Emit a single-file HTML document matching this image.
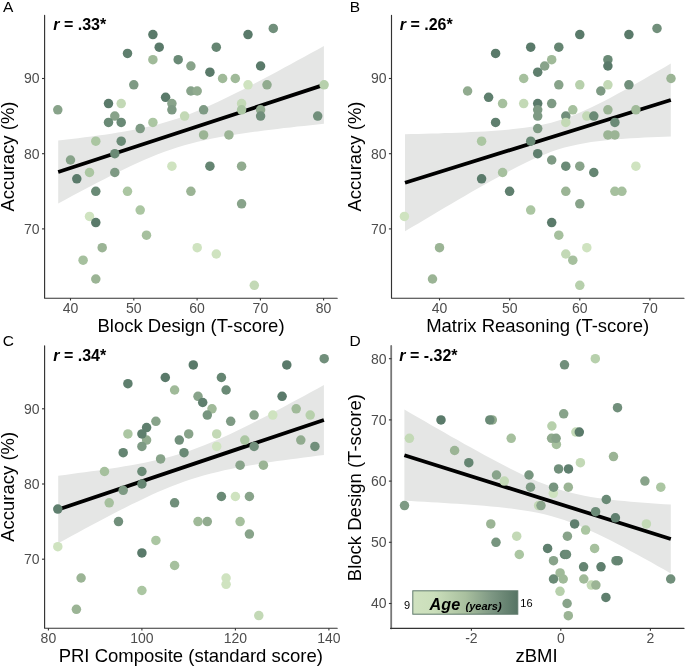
<!DOCTYPE html><html><head><meta charset="utf-8"><style>html,body{margin:0;padding:0;background:#fff;}svg{display:block;will-change:transform;}text{font-family:"Liberation Sans",sans-serif;}</style></head><body>
<svg width="685" height="667" viewBox="0 0 685 667">
<defs><linearGradient id="lg" x1="0" x2="1" y1="0" y2="0"><stop offset="0" stop-color="#d0e2c0"/><stop offset="0.2" stop-color="#cbdfbb"/><stop offset="0.5" stop-color="#a9c09f"/><stop offset="0.75" stop-color="#7d9783"/><stop offset="1" stop-color="#567464"/></linearGradient></defs>
<path d="M58.2,140.5 L64.8,139.7 L71.5,139.0 L78.1,138.2 L84.8,137.3 L91.4,136.5 L98.1,135.6 L104.7,134.7 L111.3,133.7 L118.0,132.6 L124.6,131.5 L131.3,130.3 L137.9,129.0 L144.6,127.6 L151.2,126.1 L157.8,124.4 L164.5,122.6 L171.1,120.6 L177.8,118.4 L184.4,116.1 L191.1,113.5 L197.7,110.8 L204.3,108.0 L211.0,105.0 L217.6,102.0 L224.3,98.8 L230.9,95.5 L237.5,92.2 L244.2,88.9 L250.8,85.4 L257.5,82.0 L264.1,78.5 L270.8,74.9 L277.4,71.4 L284.0,67.8 L290.7,64.2 L297.3,60.6 L304.0,57.0 L310.6,53.3 L317.3,49.7 L323.9,46.0 L323.9,123.8 L317.3,124.5 L310.6,125.2 L304.0,125.9 L297.3,126.6 L290.7,127.4 L284.0,128.1 L277.4,128.9 L270.8,129.7 L264.1,130.5 L257.5,131.4 L250.8,132.3 L244.2,133.2 L237.5,134.2 L230.9,135.2 L224.3,136.3 L217.6,137.5 L211.0,138.8 L204.3,140.2 L197.7,141.7 L191.1,143.4 L184.4,145.2 L177.8,147.2 L171.1,149.4 L164.5,151.7 L157.8,154.2 L151.2,156.9 L144.6,159.8 L137.9,162.7 L131.3,165.8 L124.6,168.9 L118.0,172.2 L111.3,175.5 L104.7,178.9 L98.1,182.3 L91.4,185.7 L84.8,189.2 L78.1,192.8 L71.5,196.3 L64.8,199.9 L58.2,203.5Z" fill="#e5e6e5"/>
<line x1="58.2" y1="172.0" x2="323.9" y2="84.9" stroke="#000" stroke-width="3.8"/>
<circle cx="127.5" cy="53.4" r="4.75" fill="#5f7f6e"/>
<circle cx="133.8" cy="84.8" r="4.75" fill="#7e9a84"/>
<circle cx="108.5" cy="103.6" r="4.75" fill="#5a7a6a"/>
<circle cx="121.2" cy="103.6" r="4.75" fill="#c3d9b6"/>
<circle cx="57.8" cy="109.8" r="4.75" fill="#88a38a"/>
<circle cx="152.9" cy="34.6" r="4.75" fill="#5a7a6a"/>
<circle cx="159.2" cy="47.2" r="4.75" fill="#5a7a6a"/>
<circle cx="152.9" cy="59.7" r="4.75" fill="#a0ba99"/>
<circle cx="178.2" cy="59.7" r="4.75" fill="#6a8a76"/>
<circle cx="190.9" cy="66.0" r="4.75" fill="#88a38a"/>
<circle cx="216.3" cy="47.2" r="4.75" fill="#658572"/>
<circle cx="209.9" cy="72.2" r="4.75" fill="#5a7a6a"/>
<circle cx="222.6" cy="78.5" r="4.75" fill="#a0ba99"/>
<circle cx="235.3" cy="78.5" r="4.75" fill="#a0ba99"/>
<circle cx="190.9" cy="91.0" r="4.75" fill="#88a38a"/>
<circle cx="197.2" cy="91.0" r="4.75" fill="#91ab8f"/>
<circle cx="165.6" cy="97.3" r="4.75" fill="#5a7a6a"/>
<circle cx="171.9" cy="103.6" r="4.75" fill="#88a38a"/>
<circle cx="248.0" cy="34.6" r="4.75" fill="#5a7a6a"/>
<circle cx="273.3" cy="28.4" r="4.75" fill="#718f7b"/>
<circle cx="260.6" cy="66.0" r="4.75" fill="#5a7a6a"/>
<circle cx="248.0" cy="84.8" r="4.75" fill="#cfe3c0"/>
<circle cx="267.0" cy="84.8" r="4.75" fill="#91ab8f"/>
<circle cx="324.1" cy="84.8" r="4.75" fill="#b7d0ac"/>
<circle cx="241.6" cy="103.6" r="4.75" fill="#c3d9b6"/>
<circle cx="241.6" cy="109.8" r="4.75" fill="#abc6a2"/>
<circle cx="260.6" cy="109.8" r="4.75" fill="#91ab8f"/>
<circle cx="260.6" cy="116.1" r="4.75" fill="#718f7b"/>
<circle cx="317.7" cy="116.1" r="4.75" fill="#718f7b"/>
<circle cx="114.8" cy="116.1" r="4.75" fill="#88a38a"/>
<circle cx="108.5" cy="122.4" r="4.75" fill="#6a8a76"/>
<circle cx="121.2" cy="122.4" r="4.75" fill="#6a8a76"/>
<circle cx="140.2" cy="128.6" r="4.75" fill="#7e9a84"/>
<circle cx="95.8" cy="141.2" r="4.75" fill="#abc6a2"/>
<circle cx="121.2" cy="141.2" r="4.75" fill="#6a8a76"/>
<circle cx="114.8" cy="153.7" r="4.75" fill="#6a8a76"/>
<circle cx="70.5" cy="160.0" r="4.75" fill="#88a38a"/>
<circle cx="89.5" cy="172.5" r="4.75" fill="#abc6a2"/>
<circle cx="114.8" cy="172.5" r="4.75" fill="#7e9a84"/>
<circle cx="76.8" cy="178.8" r="4.75" fill="#5a7a6a"/>
<circle cx="95.8" cy="191.3" r="4.75" fill="#6a8a76"/>
<circle cx="127.5" cy="191.3" r="4.75" fill="#abc6a2"/>
<circle cx="171.9" cy="109.8" r="4.75" fill="#7e9a84"/>
<circle cx="203.6" cy="109.8" r="4.75" fill="#7e9a84"/>
<circle cx="152.9" cy="122.4" r="4.75" fill="#abc6a2"/>
<circle cx="184.6" cy="116.1" r="4.75" fill="#c3d9b6"/>
<circle cx="203.6" cy="134.9" r="4.75" fill="#9bb495"/>
<circle cx="228.9" cy="134.9" r="4.75" fill="#9bb495"/>
<circle cx="171.9" cy="166.2" r="4.75" fill="#cfe3c0"/>
<circle cx="209.9" cy="166.2" r="4.75" fill="#658572"/>
<circle cx="241.6" cy="166.2" r="4.75" fill="#91ab8f"/>
<circle cx="190.9" cy="191.3" r="4.75" fill="#9bb495"/>
<circle cx="89.5" cy="216.4" r="4.75" fill="#cfe3c0"/>
<circle cx="95.8" cy="222.6" r="4.75" fill="#5a7a6a"/>
<circle cx="140.2" cy="210.1" r="4.75" fill="#abc6a2"/>
<circle cx="146.5" cy="235.2" r="4.75" fill="#a6c09e"/>
<circle cx="102.2" cy="247.7" r="4.75" fill="#9bb495"/>
<circle cx="83.1" cy="260.2" r="4.75" fill="#a6c09e"/>
<circle cx="95.8" cy="279.0" r="4.75" fill="#9bb495"/>
<circle cx="197.2" cy="247.7" r="4.75" fill="#cfe3c0"/>
<circle cx="216.3" cy="254.0" r="4.75" fill="#cfe3c0"/>
<circle cx="241.6" cy="203.8" r="4.75" fill="#88a38a"/>
<circle cx="254.3" cy="285.3" r="4.75" fill="#c3d9b6"/>
<path d="M44.6,15.3 V298.2 H337.2" fill="none" stroke="#333333" stroke-width="1.15" stroke-linecap="round" stroke-linejoin="round"/>
<line x1="42.0" y1="78.5" x2="44.6" y2="78.5" stroke="#333333" stroke-width="1.1"/>
<text x="39.6" y="83.4" text-anchor="end" font-size="14" fill="#4d4d4d">90</text>
<line x1="42.0" y1="153.7" x2="44.6" y2="153.7" stroke="#333333" stroke-width="1.1"/>
<text x="39.6" y="158.6" text-anchor="end" font-size="14" fill="#4d4d4d">80</text>
<line x1="42.0" y1="228.9" x2="44.6" y2="228.9" stroke="#333333" stroke-width="1.1"/>
<text x="39.6" y="233.8" text-anchor="end" font-size="14" fill="#4d4d4d">70</text>
<line x1="70.5" y1="298.2" x2="70.5" y2="300.5" stroke="#333333" stroke-width="1.1"/>
<text x="70.5" y="313.2" text-anchor="middle" font-size="14" fill="#4d4d4d">40</text>
<line x1="133.8" y1="298.2" x2="133.8" y2="300.5" stroke="#333333" stroke-width="1.1"/>
<text x="133.8" y="313.2" text-anchor="middle" font-size="14" fill="#4d4d4d">50</text>
<line x1="197.1" y1="298.2" x2="197.1" y2="300.5" stroke="#333333" stroke-width="1.1"/>
<text x="197.1" y="313.2" text-anchor="middle" font-size="14" fill="#4d4d4d">60</text>
<line x1="260.4" y1="298.2" x2="260.4" y2="300.5" stroke="#333333" stroke-width="1.1"/>
<text x="260.4" y="313.2" text-anchor="middle" font-size="14" fill="#4d4d4d">70</text>
<line x1="323.6" y1="298.2" x2="323.6" y2="300.5" stroke="#333333" stroke-width="1.1"/>
<text x="323.6" y="313.2" text-anchor="middle" font-size="14" fill="#4d4d4d">80</text>
<text x="191" y="331.6" text-anchor="middle" font-size="18.5">Block Design (T-score)</text>
<text transform="translate(13.6,156.5) rotate(-90)" text-anchor="middle" font-size="18.5">Accuracy (%)</text>
<text x="3.0" y="12" font-size="15.5">A</text>
<text x="53.3" y="30.2" font-size="16" font-weight="bold"><tspan font-style="italic">r</tspan> = .33*</text>
<path d="M405.0,134.3 L411.6,134.1 L418.3,134.0 L424.9,133.8 L431.6,133.6 L438.2,133.4 L444.9,133.1 L451.5,132.9 L458.2,132.7 L464.8,132.4 L471.4,132.1 L478.1,131.7 L484.7,131.4 L491.4,131.0 L498.0,130.5 L504.7,130.0 L511.3,129.3 L518.0,128.6 L524.6,127.8 L531.3,126.8 L537.9,125.7 L544.5,124.3 L551.2,122.7 L557.8,120.8 L564.5,118.6 L571.1,116.2 L577.8,113.5 L584.4,110.6 L591.1,107.5 L597.7,104.3 L604.3,100.9 L611.0,97.4 L617.6,93.8 L624.3,90.2 L630.9,86.5 L637.6,82.7 L644.2,78.9 L650.9,75.1 L657.5,71.3 L664.2,67.4 L670.8,63.5 L670.8,136.5 L664.2,136.7 L657.5,137.0 L650.9,137.3 L644.2,137.6 L637.6,138.0 L630.9,138.3 L624.3,138.8 L617.6,139.3 L611.0,139.8 L604.3,140.5 L597.7,141.2 L591.1,142.1 L584.4,143.2 L577.8,144.4 L571.1,145.9 L564.5,147.6 L557.8,149.6 L551.2,151.8 L544.5,154.4 L537.9,157.1 L531.3,160.1 L524.6,163.3 L518.0,166.6 L511.3,170.0 L504.7,173.5 L498.0,177.2 L491.4,180.8 L484.7,184.5 L478.1,188.3 L471.4,192.1 L464.8,196.0 L458.2,199.8 L451.5,203.7 L444.9,207.6 L438.2,211.5 L431.6,215.5 L424.9,219.4 L418.3,223.4 L411.6,227.3 L405.0,231.3Z" fill="#e5e6e5"/>
<line x1="405.0" y1="182.8" x2="670.8" y2="100.0" stroke="#000" stroke-width="3.8"/>
<circle cx="467.6" cy="91.0" r="4.75" fill="#91ab8f"/>
<circle cx="488.6" cy="97.3" r="4.75" fill="#5f7f6e"/>
<circle cx="495.6" cy="53.4" r="4.75" fill="#5a7a6a"/>
<circle cx="530.7" cy="47.2" r="4.75" fill="#5a7a6a"/>
<circle cx="558.8" cy="47.2" r="4.75" fill="#658572"/>
<circle cx="579.8" cy="34.6" r="4.75" fill="#5a7a6a"/>
<circle cx="551.7" cy="59.7" r="4.75" fill="#a0ba99"/>
<circle cx="544.7" cy="66.0" r="4.75" fill="#88a38a"/>
<circle cx="537.7" cy="72.2" r="4.75" fill="#5f7f6e"/>
<circle cx="523.7" cy="78.5" r="4.75" fill="#a6c09e"/>
<circle cx="558.8" cy="84.8" r="4.75" fill="#88a38a"/>
<circle cx="579.8" cy="84.8" r="4.75" fill="#b7d0ac"/>
<circle cx="502.6" cy="103.6" r="4.75" fill="#a6c09e"/>
<circle cx="523.7" cy="103.6" r="4.75" fill="#c3d9b6"/>
<circle cx="537.7" cy="103.6" r="4.75" fill="#5a7a6a"/>
<circle cx="551.7" cy="103.6" r="4.75" fill="#7e9a84"/>
<circle cx="628.9" cy="34.6" r="4.75" fill="#5a7a6a"/>
<circle cx="657.0" cy="28.4" r="4.75" fill="#718f7b"/>
<circle cx="607.9" cy="59.7" r="4.75" fill="#6a8a76"/>
<circle cx="607.9" cy="66.0" r="4.75" fill="#5a7a6a"/>
<circle cx="607.9" cy="84.8" r="4.75" fill="#c3d9b6"/>
<circle cx="628.9" cy="84.8" r="4.75" fill="#718f7b"/>
<circle cx="671.0" cy="78.5" r="4.75" fill="#9bb495"/>
<circle cx="600.8" cy="91.0" r="4.75" fill="#7e9a84"/>
<circle cx="607.9" cy="109.8" r="4.75" fill="#9bb495"/>
<circle cx="635.9" cy="109.8" r="4.75" fill="#a0ba99"/>
<circle cx="481.6" cy="141.2" r="4.75" fill="#abc6a2"/>
<circle cx="481.6" cy="178.8" r="4.75" fill="#5a7a6a"/>
<circle cx="537.7" cy="109.8" r="4.75" fill="#7e9a84"/>
<circle cx="537.7" cy="116.1" r="4.75" fill="#7e9a84"/>
<circle cx="572.8" cy="109.8" r="4.75" fill="#a6c09e"/>
<circle cx="565.8" cy="116.1" r="4.75" fill="#718f7b"/>
<circle cx="565.8" cy="122.4" r="4.75" fill="#c3d9b6"/>
<circle cx="586.8" cy="116.1" r="4.75" fill="#c3d9b6"/>
<circle cx="593.8" cy="116.1" r="4.75" fill="#6a8a76"/>
<circle cx="495.6" cy="122.4" r="4.75" fill="#5f7f6e"/>
<circle cx="537.7" cy="128.6" r="4.75" fill="#7e9a84"/>
<circle cx="530.7" cy="141.2" r="4.75" fill="#6a8a76"/>
<circle cx="537.7" cy="153.7" r="4.75" fill="#5f7f6e"/>
<circle cx="551.7" cy="160.0" r="4.75" fill="#7e9a84"/>
<circle cx="565.8" cy="166.2" r="4.75" fill="#6a8a76"/>
<circle cx="579.8" cy="166.2" r="4.75" fill="#88a38a"/>
<circle cx="502.6" cy="172.5" r="4.75" fill="#a6c09e"/>
<circle cx="509.6" cy="191.3" r="4.75" fill="#5f7f6e"/>
<circle cx="565.8" cy="191.3" r="4.75" fill="#9bb495"/>
<circle cx="614.9" cy="122.4" r="4.75" fill="#6a8a76"/>
<circle cx="607.9" cy="134.9" r="4.75" fill="#9bb495"/>
<circle cx="614.9" cy="134.9" r="4.75" fill="#9bb495"/>
<circle cx="593.8" cy="172.5" r="4.75" fill="#658572"/>
<circle cx="635.9" cy="166.2" r="4.75" fill="#cfe3c0"/>
<circle cx="614.9" cy="191.3" r="4.75" fill="#a6c09e"/>
<circle cx="621.9" cy="191.3" r="4.75" fill="#a6c09e"/>
<circle cx="404.4" cy="216.4" r="4.75" fill="#cfe3c0"/>
<circle cx="439.5" cy="247.7" r="4.75" fill="#9bb495"/>
<circle cx="432.5" cy="279.0" r="4.75" fill="#9bb495"/>
<circle cx="530.7" cy="210.1" r="4.75" fill="#abc6a2"/>
<circle cx="551.7" cy="222.6" r="4.75" fill="#5a7a6a"/>
<circle cx="558.8" cy="235.2" r="4.75" fill="#a6c09e"/>
<circle cx="579.8" cy="203.8" r="4.75" fill="#88a38a"/>
<circle cx="565.8" cy="254.0" r="4.75" fill="#c3d9b6"/>
<circle cx="572.8" cy="260.2" r="4.75" fill="#a6c09e"/>
<circle cx="579.8" cy="285.3" r="4.75" fill="#b7d0ac"/>
<circle cx="586.8" cy="247.7" r="4.75" fill="#cfe3c0"/>
<path d="M391.5,15.3 V298.2 H684" fill="none" stroke="#333333" stroke-width="1.15" stroke-linecap="round" stroke-linejoin="round"/>
<line x1="388.9" y1="78.5" x2="391.5" y2="78.5" stroke="#333333" stroke-width="1.1"/>
<text x="386.5" y="83.4" text-anchor="end" font-size="14" fill="#4d4d4d">90</text>
<line x1="388.9" y1="153.7" x2="391.5" y2="153.7" stroke="#333333" stroke-width="1.1"/>
<text x="386.5" y="158.6" text-anchor="end" font-size="14" fill="#4d4d4d">80</text>
<line x1="388.9" y1="228.9" x2="391.5" y2="228.9" stroke="#333333" stroke-width="1.1"/>
<text x="386.5" y="233.8" text-anchor="end" font-size="14" fill="#4d4d4d">70</text>
<line x1="439.5" y1="298.2" x2="439.5" y2="300.5" stroke="#333333" stroke-width="1.1"/>
<text x="439.5" y="313.2" text-anchor="middle" font-size="14" fill="#4d4d4d">40</text>
<line x1="509.7" y1="298.2" x2="509.7" y2="300.5" stroke="#333333" stroke-width="1.1"/>
<text x="509.7" y="313.2" text-anchor="middle" font-size="14" fill="#4d4d4d">50</text>
<line x1="579.8" y1="298.2" x2="579.8" y2="300.5" stroke="#333333" stroke-width="1.1"/>
<text x="579.8" y="313.2" text-anchor="middle" font-size="14" fill="#4d4d4d">60</text>
<line x1="649.9" y1="298.2" x2="649.9" y2="300.5" stroke="#333333" stroke-width="1.1"/>
<text x="649.9" y="313.2" text-anchor="middle" font-size="14" fill="#4d4d4d">70</text>
<text x="537.7" y="331.6" text-anchor="middle" font-size="18.5">Matrix Reasoning (T-score)</text>
<text transform="translate(361.1,156.5) rotate(-90)" text-anchor="middle" font-size="18.5">Accuracy (%)</text>
<text x="349.7" y="12" font-size="15.5">B</text>
<text x="399.8" y="30.2" font-size="16" font-weight="bold"><tspan font-style="italic">r</tspan> = .26*</text>
<path d="M58.2,475.7 L64.8,474.9 L71.5,474.0 L78.1,473.1 L84.8,472.3 L91.4,471.3 L98.1,470.4 L104.7,469.4 L111.3,468.4 L118.0,467.4 L124.6,466.3 L131.3,465.2 L137.9,463.9 L144.6,462.7 L151.2,461.3 L157.8,459.8 L164.5,458.2 L171.1,456.4 L177.8,454.5 L184.4,452.5 L191.1,450.2 L197.7,447.8 L204.3,445.3 L211.0,442.6 L217.6,439.7 L224.3,436.8 L230.9,433.7 L237.5,430.5 L244.2,427.3 L250.8,424.0 L257.5,420.6 L264.1,417.2 L270.8,413.7 L277.4,410.2 L284.0,406.7 L290.7,403.1 L297.3,399.5 L304.0,395.9 L310.6,392.3 L317.3,388.7 L323.9,385.0 L323.9,455.0 L317.3,455.8 L310.6,456.7 L304.0,457.5 L297.3,458.4 L290.7,459.3 L284.0,460.2 L277.4,461.1 L270.8,462.1 L264.1,463.1 L257.5,464.2 L250.8,465.3 L244.2,466.4 L237.5,467.6 L230.9,468.9 L224.3,470.3 L217.6,471.9 L211.0,473.5 L204.3,475.3 L197.7,477.2 L191.1,479.3 L184.4,481.5 L177.8,483.9 L171.1,486.5 L164.5,489.2 L157.8,492.1 L151.2,495.1 L144.6,498.2 L137.9,501.4 L131.3,504.6 L124.6,507.9 L118.0,511.3 L111.3,514.8 L104.7,518.2 L98.1,521.7 L91.4,525.3 L84.8,528.8 L78.1,532.4 L71.5,536.0 L64.8,539.7 L58.2,543.3Z" fill="#e5e6e5"/>
<line x1="58.2" y1="509.5" x2="323.9" y2="420.0" stroke="#000" stroke-width="3.8"/>
<circle cx="127.9" cy="383.7" r="4.75" fill="#5f7f6e"/>
<circle cx="127.9" cy="433.9" r="4.75" fill="#abc6a2"/>
<circle cx="193.3" cy="364.9" r="4.75" fill="#5a7a6a"/>
<circle cx="165.3" cy="377.5" r="4.75" fill="#5a7a6a"/>
<circle cx="221.4" cy="377.5" r="4.75" fill="#658572"/>
<circle cx="174.6" cy="390.0" r="4.75" fill="#a0ba99"/>
<circle cx="226.1" cy="390.0" r="4.75" fill="#6a8a76"/>
<circle cx="198.0" cy="396.3" r="4.75" fill="#88a38a"/>
<circle cx="202.7" cy="402.5" r="4.75" fill="#5f7f6e"/>
<circle cx="212.0" cy="408.8" r="4.75" fill="#a0ba99"/>
<circle cx="207.3" cy="415.1" r="4.75" fill="#77957f"/>
<circle cx="155.9" cy="421.3" r="4.75" fill="#88a38a"/>
<circle cx="230.7" cy="421.3" r="4.75" fill="#7e9a84"/>
<circle cx="188.7" cy="433.9" r="4.75" fill="#88a38a"/>
<circle cx="216.7" cy="433.9" r="4.75" fill="#c3d9b6"/>
<circle cx="286.8" cy="364.9" r="4.75" fill="#5a7a6a"/>
<circle cx="324.2" cy="358.7" r="4.75" fill="#718f7b"/>
<circle cx="282.1" cy="396.3" r="4.75" fill="#5a7a6a"/>
<circle cx="254.1" cy="415.1" r="4.75" fill="#88a38a"/>
<circle cx="272.8" cy="415.1" r="4.75" fill="#cfe3c0"/>
<circle cx="296.2" cy="408.8" r="4.75" fill="#a0ba99"/>
<circle cx="310.2" cy="415.1" r="4.75" fill="#b7d0ac"/>
<circle cx="244.8" cy="440.1" r="4.75" fill="#abc6a2"/>
<circle cx="254.1" cy="446.4" r="4.75" fill="#718f7b"/>
<circle cx="300.8" cy="440.1" r="4.75" fill="#91ab8f"/>
<circle cx="314.9" cy="446.4" r="4.75" fill="#718f7b"/>
<circle cx="123.2" cy="452.7" r="4.75" fill="#658572"/>
<circle cx="104.5" cy="471.5" r="4.75" fill="#a6c09e"/>
<circle cx="141.9" cy="471.5" r="4.75" fill="#6a8a76"/>
<circle cx="141.9" cy="484.0" r="4.75" fill="#658572"/>
<circle cx="123.2" cy="490.3" r="4.75" fill="#7e9a84"/>
<circle cx="109.2" cy="502.8" r="4.75" fill="#a6c09e"/>
<circle cx="57.8" cy="509.1" r="4.75" fill="#5f7f6e"/>
<circle cx="118.5" cy="521.6" r="4.75" fill="#718f7b"/>
<circle cx="179.3" cy="440.1" r="4.75" fill="#718f7b"/>
<circle cx="216.7" cy="446.4" r="4.75" fill="#cfe3c0"/>
<circle cx="184.0" cy="452.7" r="4.75" fill="#6a8a76"/>
<circle cx="160.6" cy="458.9" r="4.75" fill="#88a38a"/>
<circle cx="174.6" cy="502.8" r="4.75" fill="#718f7b"/>
<circle cx="221.4" cy="496.5" r="4.75" fill="#6a8a76"/>
<circle cx="235.4" cy="496.5" r="4.75" fill="#cfe3c0"/>
<circle cx="198.0" cy="521.6" r="4.75" fill="#a0ba99"/>
<circle cx="207.3" cy="521.6" r="4.75" fill="#91ab8f"/>
<circle cx="240.1" cy="465.2" r="4.75" fill="#88a38a"/>
<circle cx="263.4" cy="465.2" r="4.75" fill="#9bb495"/>
<circle cx="249.4" cy="496.5" r="4.75" fill="#88a38a"/>
<circle cx="240.1" cy="521.6" r="4.75" fill="#a6c09e"/>
<circle cx="57.8" cy="546.7" r="4.75" fill="#cfe3c0"/>
<circle cx="141.9" cy="552.9" r="4.75" fill="#5a7a6a"/>
<circle cx="81.1" cy="578.0" r="4.75" fill="#9bb495"/>
<circle cx="141.9" cy="590.5" r="4.75" fill="#abc6a2"/>
<circle cx="76.4" cy="609.3" r="4.75" fill="#9bb495"/>
<circle cx="155.9" cy="540.4" r="4.75" fill="#abc6a2"/>
<circle cx="174.6" cy="565.5" r="4.75" fill="#a6c09e"/>
<circle cx="226.1" cy="578.0" r="4.75" fill="#cfe3c0"/>
<circle cx="226.1" cy="584.3" r="4.75" fill="#cfe3c0"/>
<circle cx="249.4" cy="534.1" r="4.75" fill="#88a38a"/>
<circle cx="258.8" cy="615.6" r="4.75" fill="#c3d9b6"/>
<circle cx="146.6" cy="427.6" r="4.75" fill="#5f7f6e"/>
<circle cx="146.6" cy="440.1" r="4.75" fill="#91ab8f"/>
<circle cx="141.9" cy="433.9" r="4.75" fill="#5f7f6e"/>
<circle cx="141.9" cy="446.4" r="4.75" fill="#7e9a84"/>
<path d="M44.6,345.8 V628.2 H337.2" fill="none" stroke="#333333" stroke-width="1.15" stroke-linecap="round" stroke-linejoin="round"/>
<line x1="42.0" y1="408.8" x2="44.6" y2="408.8" stroke="#333333" stroke-width="1.1"/>
<text x="39.6" y="413.7" text-anchor="end" font-size="14" fill="#4d4d4d">90</text>
<line x1="42.0" y1="484.0" x2="44.6" y2="484.0" stroke="#333333" stroke-width="1.1"/>
<text x="39.6" y="488.9" text-anchor="end" font-size="14" fill="#4d4d4d">80</text>
<line x1="42.0" y1="559.2" x2="44.6" y2="559.2" stroke="#333333" stroke-width="1.1"/>
<text x="39.6" y="564.1" text-anchor="end" font-size="14" fill="#4d4d4d">70</text>
<line x1="48.4" y1="628.2" x2="48.4" y2="630.5" stroke="#333333" stroke-width="1.1"/>
<text x="48.4" y="643.2" text-anchor="middle" font-size="14" fill="#4d4d4d">80</text>
<line x1="141.9" y1="628.2" x2="141.9" y2="630.5" stroke="#333333" stroke-width="1.1"/>
<text x="141.9" y="643.2" text-anchor="middle" font-size="14" fill="#4d4d4d">100</text>
<line x1="235.4" y1="628.2" x2="235.4" y2="630.5" stroke="#333333" stroke-width="1.1"/>
<text x="235.4" y="643.2" text-anchor="middle" font-size="14" fill="#4d4d4d">120</text>
<line x1="328.9" y1="628.2" x2="328.9" y2="630.5" stroke="#333333" stroke-width="1.1"/>
<text x="328.9" y="643.2" text-anchor="middle" font-size="14" fill="#4d4d4d">140</text>
<text x="190.8" y="662" text-anchor="middle" font-size="18.5">PRI Composite (standard score)</text>
<text transform="translate(13.6,486.8) rotate(-90)" text-anchor="middle" font-size="18.5">Accuracy (%)</text>
<text x="2.7" y="346.3" font-size="15.5">C</text>
<text x="53.3" y="360.5" font-size="16" font-weight="bold"><tspan font-style="italic">r</tspan> = .34*</text>
<path d="M404.4,409.6 L411.1,413.5 L417.7,417.3 L424.4,421.1 L431.0,425.0 L437.7,428.8 L444.4,432.6 L451.0,436.4 L457.7,440.1 L464.3,443.9 L471.0,447.6 L477.7,451.3 L484.3,454.9 L491.0,458.5 L497.6,462.0 L504.3,465.5 L511.0,468.9 L517.6,472.2 L524.3,475.4 L530.9,478.5 L537.6,481.4 L544.3,484.1 L550.9,486.6 L557.6,488.9 L564.2,490.9 L570.9,492.7 L577.6,494.3 L584.2,495.7 L590.9,496.9 L597.5,497.9 L604.2,498.8 L610.9,499.7 L617.5,500.4 L624.2,501.1 L630.8,501.7 L637.5,502.3 L644.2,502.8 L650.8,503.3 L657.5,503.7 L664.1,504.2 L670.8,504.6 L670.8,573.4 L664.1,569.6 L657.5,565.9 L650.8,562.1 L644.2,558.4 L637.5,554.8 L630.8,551.2 L624.2,547.6 L617.5,544.1 L610.9,540.6 L604.2,537.3 L597.5,534.0 L590.9,530.9 L584.2,527.9 L577.6,525.1 L570.9,522.4 L564.2,520.0 L557.6,517.9 L550.9,516.0 L544.3,514.3 L537.6,512.8 L530.9,511.5 L524.3,510.4 L517.6,509.4 L511.0,508.5 L504.3,507.7 L497.6,507.0 L491.0,506.4 L484.3,505.8 L477.7,505.2 L471.0,504.7 L464.3,504.3 L457.7,503.8 L451.0,503.4 L444.4,503.0 L437.7,502.6 L431.0,502.2 L424.4,501.8 L417.7,501.5 L411.1,501.1 L404.4,500.8Z" fill="#e5e6e5"/>
<line x1="404.4" y1="455.2" x2="670.8" y2="539.0" stroke="#000" stroke-width="3.8"/>
<circle cx="441.0" cy="419.9" r="4.75" fill="#5a7a6a"/>
<circle cx="492.3" cy="419.9" r="4.75" fill="#91ab8f"/>
<circle cx="489.8" cy="419.9" r="4.75" fill="#6a8a76"/>
<circle cx="564.5" cy="364.8" r="4.75" fill="#718f7b"/>
<circle cx="563.7" cy="413.8" r="4.75" fill="#88a38a"/>
<circle cx="551.9" cy="426.0" r="4.75" fill="#b7d0ac"/>
<circle cx="575.9" cy="432.1" r="4.75" fill="#c3d9b6"/>
<circle cx="579.3" cy="432.1" r="4.75" fill="#5a7a6a"/>
<circle cx="595.3" cy="358.7" r="4.75" fill="#b7d0ac"/>
<circle cx="617.5" cy="407.7" r="4.75" fill="#718f7b"/>
<circle cx="409.4" cy="438.3" r="4.75" fill="#c3d9b6"/>
<circle cx="454.6" cy="450.5" r="4.75" fill="#9bb495"/>
<circle cx="468.8" cy="462.7" r="4.75" fill="#658572"/>
<circle cx="404.5" cy="505.6" r="4.75" fill="#7e9a84"/>
<circle cx="556.4" cy="444.4" r="4.75" fill="#a6c09e"/>
<circle cx="511.2" cy="438.3" r="4.75" fill="#a6c09e"/>
<circle cx="551.6" cy="438.3" r="4.75" fill="#91ab8f"/>
<circle cx="556.1" cy="438.3" r="4.75" fill="#88a38a"/>
<circle cx="580.4" cy="462.7" r="4.75" fill="#c3d9b6"/>
<circle cx="558.6" cy="468.9" r="4.75" fill="#718f7b"/>
<circle cx="568.5" cy="468.9" r="4.75" fill="#5f7f6e"/>
<circle cx="496.5" cy="475.0" r="4.75" fill="#88a38a"/>
<circle cx="529.0" cy="475.0" r="4.75" fill="#77957f"/>
<circle cx="504.3" cy="481.1" r="4.75" fill="#c3d9b6"/>
<circle cx="553.3" cy="493.3" r="4.75" fill="#cfe3c0"/>
<circle cx="530.5" cy="487.2" r="4.75" fill="#7e9a84"/>
<circle cx="553.6" cy="487.2" r="4.75" fill="#77957f"/>
<circle cx="568.3" cy="487.2" r="4.75" fill="#9bb495"/>
<circle cx="538.6" cy="505.6" r="4.75" fill="#c3d9b6"/>
<circle cx="541.0" cy="505.6" r="4.75" fill="#88a38a"/>
<circle cx="490.8" cy="523.9" r="4.75" fill="#9bb495"/>
<circle cx="574.6" cy="523.9" r="4.75" fill="#5f7f6e"/>
<circle cx="595.6" cy="511.7" r="4.75" fill="#6a8a76"/>
<circle cx="585.6" cy="530.1" r="4.75" fill="#abc6a2"/>
<circle cx="567.4" cy="536.2" r="4.75" fill="#88a38a"/>
<circle cx="613.5" cy="456.6" r="4.75" fill="#9bb495"/>
<circle cx="644.9" cy="481.1" r="4.75" fill="#88a38a"/>
<circle cx="660.8" cy="487.2" r="4.75" fill="#abc6a2"/>
<circle cx="606.3" cy="499.5" r="4.75" fill="#6a8a76"/>
<circle cx="615.4" cy="517.8" r="4.75" fill="#5f7f6e"/>
<circle cx="646.4" cy="523.9" r="4.75" fill="#c3d9b6"/>
<circle cx="616.0" cy="560.7" r="4.75" fill="#6a8a76"/>
<circle cx="618.2" cy="560.7" r="4.75" fill="#658572"/>
<circle cx="601.0" cy="566.8" r="4.75" fill="#5f7f6e"/>
<circle cx="516.7" cy="536.2" r="4.75" fill="#c3d9b6"/>
<circle cx="496.0" cy="542.3" r="4.75" fill="#77957f"/>
<circle cx="547.6" cy="548.4" r="4.75" fill="#5f7f6e"/>
<circle cx="519.3" cy="554.5" r="4.75" fill="#abc6a2"/>
<circle cx="564.5" cy="554.5" r="4.75" fill="#658572"/>
<circle cx="566.5" cy="554.5" r="4.75" fill="#6a8a76"/>
<circle cx="553.5" cy="560.7" r="4.75" fill="#88a38a"/>
<circle cx="583.6" cy="566.8" r="4.75" fill="#658572"/>
<circle cx="560.1" cy="572.9" r="4.75" fill="#a0ba99"/>
<circle cx="553.5" cy="579.0" r="4.75" fill="#6a8a76"/>
<circle cx="563.2" cy="579.0" r="4.75" fill="#a0ba99"/>
<circle cx="583.8" cy="579.0" r="4.75" fill="#a0ba99"/>
<circle cx="591.3" cy="585.1" r="4.75" fill="#c3d9b6"/>
<circle cx="595.9" cy="585.1" r="4.75" fill="#9bb495"/>
<circle cx="560.0" cy="591.3" r="4.75" fill="#b7d0ac"/>
<circle cx="567.1" cy="603.5" r="4.75" fill="#88a38a"/>
<circle cx="568.3" cy="615.7" r="4.75" fill="#9bb495"/>
<circle cx="594.6" cy="548.4" r="4.75" fill="#a6c09e"/>
<circle cx="605.9" cy="597.4" r="4.75" fill="#5f7f6e"/>
<circle cx="670.7" cy="579.0" r="4.75" fill="#718f7b"/>
<path d="M391.2,346.0 V628.4" fill="none" stroke="#777" stroke-width="1.8" stroke-linecap="round"/>
<path d="M390.6,628.4 H684" fill="none" stroke="#333" stroke-width="1.15" stroke-linecap="round"/>
<line x1="388.9" y1="358.7" x2="391.5" y2="358.7" stroke="#333333" stroke-width="1.1"/>
<text x="386.5" y="363.59999999999997" text-anchor="end" font-size="14" fill="#4d4d4d">80</text>
<line x1="388.9" y1="419.9" x2="391.5" y2="419.9" stroke="#333333" stroke-width="1.1"/>
<text x="386.5" y="424.79999999999995" text-anchor="end" font-size="14" fill="#4d4d4d">70</text>
<line x1="388.9" y1="481.1" x2="391.5" y2="481.1" stroke="#333333" stroke-width="1.1"/>
<text x="386.5" y="486.0" text-anchor="end" font-size="14" fill="#4d4d4d">60</text>
<line x1="388.9" y1="542.3" x2="391.5" y2="542.3" stroke="#333333" stroke-width="1.1"/>
<text x="386.5" y="547.1999999999999" text-anchor="end" font-size="14" fill="#4d4d4d">50</text>
<line x1="388.9" y1="603.5" x2="391.5" y2="603.5" stroke="#333333" stroke-width="1.1"/>
<text x="386.5" y="608.4" text-anchor="end" font-size="14" fill="#4d4d4d">40</text>
<line x1="471.4" y1="628.4" x2="471.4" y2="630.6999999999999" stroke="#333333" stroke-width="1.1"/>
<text x="471.4" y="643.4" text-anchor="middle" font-size="14" fill="#4d4d4d">-2</text>
<line x1="560.8" y1="628.4" x2="560.8" y2="630.6999999999999" stroke="#333333" stroke-width="1.1"/>
<text x="560.8" y="643.4" text-anchor="middle" font-size="14" fill="#4d4d4d">0</text>
<line x1="650.4" y1="628.4" x2="650.4" y2="630.6999999999999" stroke="#333333" stroke-width="1.1"/>
<text x="650.4" y="643.4" text-anchor="middle" font-size="14" fill="#4d4d4d">2</text>
<text x="536.6" y="662" text-anchor="middle" font-size="18.5">zBMI</text>
<text transform="translate(361.1,487.6) rotate(-90)" text-anchor="middle" font-size="18.5">Block Design (T-score)</text>
<text x="349.6" y="345.8" font-size="15.5">D</text>
<text x="399.3" y="360.5" font-size="16" font-weight="bold"><tspan font-style="italic">r</tspan> = -.32*</text>
<rect x="412.8" y="590.8" width="105" height="23.4" fill="url(#lg)" stroke="#5f7a6c" stroke-width="1"/>
<text x="429.6" y="609.5" font-size="16.2" font-weight="bold" font-style="italic">Age <tspan font-size="11" dx="0.8">(years)</tspan></text>
<text x="410.2" y="608.7" text-anchor="end" font-size="11">9</text>
<text x="520.3" y="607.4" font-size="11">16</text>
</svg></body></html>
